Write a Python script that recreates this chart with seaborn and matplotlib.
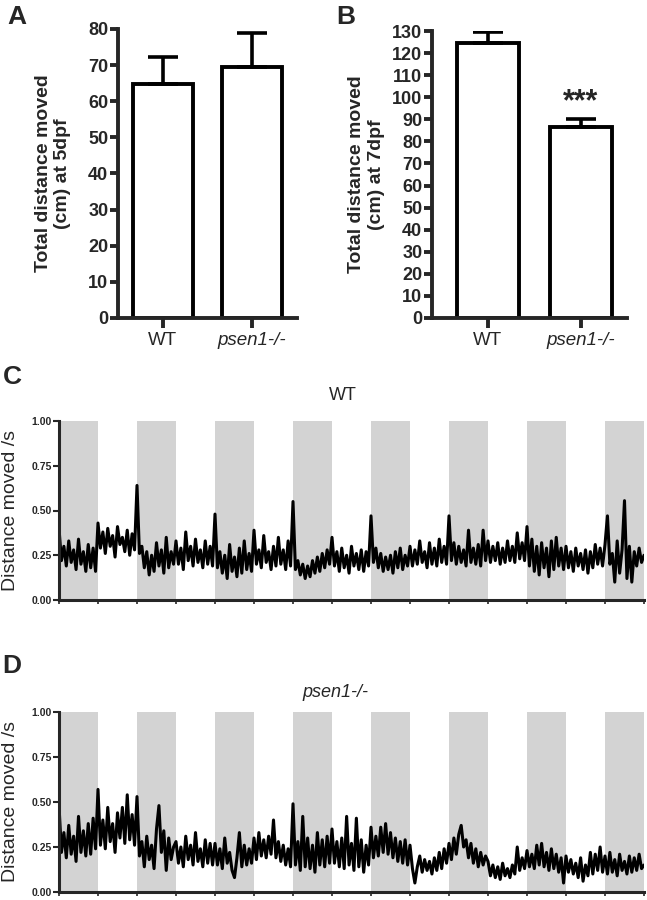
import numpy as np
import pandas as pd
import matplotlib
matplotlib.use("Agg")
import matplotlib.pyplot as plt
import seaborn as sns

# bar panels (A: 5 dpf, B: 7 dpf)
genotypes = ["WT", "psen1-/-"]
dist_5dpf = [64.8, 69.6]
sem_5dpf = [7.4, 9.2]
dist_7dpf = [124.6, 86.3]
sem_7dpf = [5.0, 4.0]

# activity traces (C: WT, D: psen1-/-), 16 readings per light/dark block
bin_step = 1 / 16
n_blocks = 15
wt_trace = [
    0.40, 0.22, 0.30, 0.19, 0.33, 0.21, 0.28, 0.17, 0.34, 0.20, 0.27, 0.16, 0.31, 0.18, 0.29, 0.16,
    0.43, 0.29, 0.38, 0.26, 0.40, 0.30, 0.36, 0.24, 0.41, 0.31, 0.35, 0.27, 0.39, 0.25, 0.37, 0.28,
    0.64, 0.26, 0.30, 0.18, 0.27, 0.14, 0.25, 0.16, 0.32, 0.19, 0.28, 0.15, 0.35, 0.18, 0.27, 0.20,
    0.33, 0.20, 0.29, 0.17, 0.38, 0.22, 0.30, 0.19, 0.34, 0.21, 0.28, 0.18, 0.33, 0.20, 0.30, 0.19,
    0.48, 0.18, 0.27, 0.15, 0.25, 0.12, 0.31, 0.16, 0.24, 0.13, 0.29, 0.15, 0.33, 0.17, 0.26, 0.16,
    0.39, 0.20, 0.28, 0.18, 0.36, 0.21, 0.27, 0.17, 0.30, 0.19, 0.35, 0.20, 0.28, 0.17, 0.33, 0.19,
    0.55, 0.17, 0.22, 0.14, 0.20, 0.12, 0.19, 0.13, 0.22, 0.15, 0.24, 0.16, 0.26, 0.18, 0.28, 0.20,
    0.35, 0.19, 0.27, 0.16, 0.29, 0.18, 0.25, 0.15, 0.30, 0.19, 0.26, 0.17, 0.28, 0.16, 0.27, 0.19,
    0.47, 0.21, 0.29, 0.18, 0.26, 0.16, 0.24, 0.17, 0.25, 0.15, 0.27, 0.18, 0.29, 0.17, 0.25, 0.19,
    0.30, 0.19, 0.28, 0.20, 0.33, 0.21, 0.27, 0.18, 0.32, 0.20, 0.29, 0.19, 0.34, 0.21, 0.30, 0.20,
    0.47, 0.22, 0.32, 0.20, 0.30, 0.21, 0.28, 0.19, 0.39, 0.21, 0.29, 0.20, 0.31, 0.19, 0.39, 0.22,
    0.33, 0.21, 0.30, 0.22, 0.32, 0.20, 0.29, 0.21, 0.33, 0.22, 0.30, 0.21, 0.375, 0.23, 0.32, 0.22,
    0.41, 0.19, 0.34, 0.16, 0.30, 0.14, 0.32, 0.18, 0.29, 0.13, 0.33, 0.17, 0.35, 0.19, 0.29, 0.17,
    0.30, 0.18, 0.27, 0.16, 0.29, 0.19, 0.26, 0.17, 0.28, 0.15, 0.27, 0.18, 0.31, 0.20, 0.29, 0.19,
    0.31, 0.47, 0.20, 0.26, 0.10, 0.33, 0.15, 0.28, 0.555, 0.12, 0.30, 0.10, 0.27, 0.19, 0.29, 0.21,
    0.25,
]
psen_trace = [
    0.48, 0.22, 0.33, 0.19, 0.37, 0.21, 0.31, 0.17, 0.42, 0.22, 0.34, 0.20, 0.38, 0.21, 0.41, 0.24,
    0.57, 0.26, 0.40, 0.24, 0.47, 0.28, 0.38, 0.22, 0.44, 0.30, 0.47, 0.27, 0.54, 0.29, 0.43, 0.26,
    0.53, 0.20, 0.28, 0.14, 0.31, 0.18, 0.26, 0.13, 0.35, 0.48, 0.22, 0.34, 0.12, 0.30, 0.18, 0.25,
    0.28, 0.16, 0.25, 0.14, 0.31, 0.18, 0.26, 0.15, 0.33, 0.17, 0.24, 0.14, 0.29, 0.16, 0.27, 0.15,
    0.27, 0.15, 0.24, 0.13, 0.30, 0.16, 0.22, 0.12, 0.08, 0.19, 0.33, 0.14, 0.26, 0.15, 0.24, 0.16,
    0.30, 0.18, 0.33, 0.20, 0.29, 0.19, 0.31, 0.21, 0.40, 0.19, 0.28, 0.17, 0.26, 0.15, 0.24, 0.14,
    0.49, 0.15, 0.28, 0.12, 0.42, 0.14, 0.30, 0.13, 0.26, 0.11, 0.33, 0.15, 0.29, 0.14, 0.31, 0.16,
    0.35, 0.16, 0.28, 0.14, 0.30, 0.13, 0.42, 0.15, 0.27, 0.12, 0.41, 0.14, 0.29, 0.11, 0.26, 0.15,
    0.36, 0.19, 0.31, 0.20, 0.36, 0.22, 0.38, 0.21, 0.33, 0.19, 0.30, 0.17, 0.28, 0.16, 0.29, 0.15,
    0.26, 0.13, 0.05, 0.14, 0.20, 0.11, 0.18, 0.12, 0.17, 0.10, 0.19, 0.12, 0.22, 0.13, 0.24, 0.16,
    0.27, 0.18, 0.30, 0.21, 0.32, 0.37, 0.25, 0.29, 0.19, 0.27, 0.16, 0.24, 0.14, 0.22, 0.15, 0.20,
    0.17, 0.09, 0.15, 0.08, 0.14, 0.07, 0.16, 0.09, 0.13, 0.08, 0.15, 0.10, 0.25, 0.12, 0.19, 0.13,
    0.23, 0.14, 0.21, 0.13, 0.26, 0.15, 0.27, 0.14, 0.22, 0.12, 0.24, 0.13, 0.21, 0.11, 0.19, 0.05,
    0.20, 0.11, 0.18, 0.10, 0.16, 0.08, 0.19, 0.06, 0.15, 0.09, 0.22, 0.10, 0.21, 0.12, 0.25, 0.11,
    0.20, 0.10, 0.22, 0.11, 0.18, 0.09, 0.21, 0.12, 0.17, 0.10, 0.20, 0.11, 0.19, 0.12, 0.21, 0.13,
    0.15,
]

sns.set_style("ticks")
plt.rcParams["font.family"] = ["Liberation Sans", "DejaVu Sans"]


def bar_panel(ax, means, sems, ylabel, ymax, labelpad):
    df = pd.DataFrame({"genotype": genotypes, "distance": means})
    sns.barplot(data=df, x="genotype", y="distance", color="white", saturation=1,
                edgecolor="black", linewidth=2.8, width=0.667, errorbar=None, ax=ax)
    ax.errorbar(range(len(means)), means, yerr=[np.zeros(len(sems)), sems], fmt="none",
                ecolor="black", elinewidth=2.6, capsize=11, capthick=2.6, zorder=1)
    ax.set_ylim(0, ymax)
    ax.set_yticks(np.arange(0, ymax + 1, 10))
    ax.set_xlim(-0.5, 1.5)
    sns.despine(ax=ax)
    for side in ["left", "bottom"]:
        ax.spines[side].set_linewidth(2.8)
    ax.tick_params(axis="y", width=2.8, length=6, labelsize=13, pad=1)
    ax.tick_params(axis="x", width=2.8, length=7, labelsize=13.5, pad=3)
    for lbl in ax.get_yticklabels():
        lbl.set_fontweight("bold")
    ax.get_xticklabels()[1].set_style("italic")
    ax.set_xlabel("")
    ax.set_ylabel(ylabel, fontsize=14, fontweight="bold", labelpad=labelpad)


def trace_panel(ax, trace, title, title_style, title_x, title_pad):
    time = np.arange(len(trace)) * bin_step
    for k in range(0, n_blocks, 2):
        ax.axvspan(k, k + 1, color="#d3d3d3", lw=0, zorder=0)
    sns.lineplot(x=time, y=trace, color="black", linewidth=2.2, ax=ax)
    ax.set_xlim(0, n_blocks)
    ax.set_ylim(0, 1)
    ax.set_yticks([0, 0.25, 0.5, 0.75, 1.0])
    ax.set_yticklabels(["0.00", "0.25", "0.50", "0.75", "1.00"], fontsize=7.5, fontweight="bold")
    ax.set_xticks(range(n_blocks + 1))
    ax.set_xticklabels([])
    sns.despine(ax=ax)
    for side in ["left", "bottom"]:
        ax.spines[side].set_linewidth(2.2)
    ax.tick_params(axis="y", width=1.5, length=4, pad=1)
    ax.tick_params(axis="x", width=1.2, length=3)
    ax.set_ylabel("Distance moved /s", fontsize=14, labelpad=9)
    ax.set_title(title, fontsize=13, style=title_style, x=title_x, pad=title_pad)


fig = plt.figure(figsize=(6.47, 9.0), dpi=100)

ax_a = fig.add_axes([118 / 647, 1 - 318 / 900, 179 / 647, 289 / 900])
bar_panel(ax_a, dist_5dpf, sem_5dpf, "Total distance moved\n(cm) at 5dpf", 80, 12)

ax_b = fig.add_axes([432 / 647, 1 - 318 / 900, 195 / 647, 287 / 900])
bar_panel(ax_b, dist_7dpf, sem_7dpf, "Total distance moved\n(cm) at 7dpf", 130, 5)
ax_b.set_xlim(-0.6, 1.5)
ax_b.text(1, dist_7dpf[1] + sem_7dpf[1] + 0.5, "***", ha="center", va="bottom",
          fontsize=22, fontweight="bold")

ax_c = fig.add_axes([59 / 647, 1 - 600 / 900, 585 / 647, 179 / 900])
trace_panel(ax_c, wt_trace, "WT", "normal", 0.485, 15)

ax_d = fig.add_axes([59 / 647, 1 - 892 / 900, 585 / 647, 180 / 900])
trace_panel(ax_d, psen_trace, "psen1-/-", "italic", 0.472, 11)

for label, x, y in [("A", 0.012, 0.995), ("B", 0.520, 0.995), ("C", 0.004, 0.594), ("D", 0.004, 0.273)]:
    fig.text(x, y, label, fontsize=19, fontweight="bold", va="top", ha="left")

fig.savefig("out.png", dpi=100)
